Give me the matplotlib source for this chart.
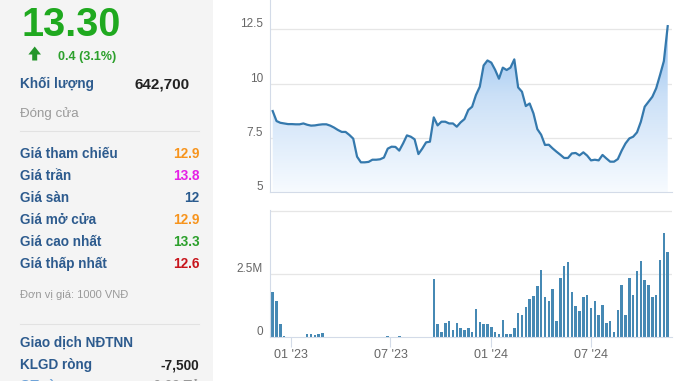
import numpy as np
import pandas as pd
import matplotlib
matplotlib.use('Agg')
import matplotlib.pyplot as plt
import matplotlib.dates as mdates
from matplotlib.transforms import blended_transform_factory, ScaledTranslation
from matplotlib.colors import LinearSegmentedColormap
from matplotlib.patches import Rectangle, Polygon

plt.rcParams['font.family'] = ['Liberation Sans', 'DejaVu Sans']

# ---------------- data ----------------
start_date = '2022-11-28'
prices = [8.74, 8.28, 8.20, 8.17, 8.14, 8.14, 8.13, 8.13, 8.17, 8.11,
          8.07, 8.08, 8.11, 8.13, 8.13, 8.07, 7.98, 7.87, 7.78, 7.78,
          7.64, 7.47, 6.64, 6.38, 6.38, 6.40, 6.50, 6.50, 6.52, 6.60,
          7.01, 7.10, 7.09, 6.92, 7.25, 7.62, 7.56, 7.44, 6.76, 7.01,
          7.30, 7.33, 8.45, 8.08, 8.25, 8.25, 8.17, 8.17, 8.02, 8.22,
          8.37, 8.79, 8.94, 9.48, 9.86, 10.84, 11.07, 10.97, 10.64, 10.23,
          10.74, 10.63, 10.74, 11.12, 9.83, 9.63, 8.97, 9.09, 8.63, 7.91,
          7.65, 7.18, 7.19, 7.02, 6.87, 6.73, 6.58, 6.58, 6.79, 6.81,
          6.70, 6.84, 6.69, 6.47, 6.50, 6.47, 6.72, 6.56, 6.41, 6.41,
          6.53, 6.92, 7.25, 7.48, 7.56, 7.76, 8.25, 8.94, 9.17, 9.40,
          9.79, 10.40, 11.04, 12.65]
volumes_m = [1.80, 1.43, 0.51, 0.05, 0, 0, 0, 0, 0, 0.12,
             0.12, 0.08, 0.12, 0.16, 0, 0, 0, 0, 0, 0,
             0, 0, 0, 0, 0, 0, 0, 0, 0, 0,
             0.07, 0, 0, 0.04, 0, 0, 0, 0, 0, 0,
             0, 0, 2.30, 0.51, 0.22, 0.55, 0.63, 0.30, 0.55, 0.36,
             0.28, 0.36, 0.22, 1.12, 0.59, 0.51, 0.51, 0.39, 0.22, 0.12,
             0.67, 0.12, 0.12, 0.36, 0.95, 0.87, 1.20, 1.51, 1.63, 2.04,
             2.66, 1.61, 1.45, 1.92, 0.63, 2.33, 2.82, 2.99, 1.80, 1.24,
             1.04, 1.61, 1.68, 1.16, 1.45, 0.87, 1.28, 0.55, 0.63, 0.22,
             1.08, 2.05, 0.87, 2.33, 1.68, 2.62, 3.01, 2.25, 2.08, 1.61,
             1.68, 3.07, 4.12, 3.38]

price_ticks = [5, 7.5, 10, 12.5]
price_tick_labels = ['5', '7.5', '10', '12.5']
vol_ticks = [0, 2.5]
vol_tick_labels = ['0', '2.5M']
vol_grid = [0, 2.5, 5]
x_tick_dates = ['2023-01-01', '2023-07-01', '2024-01-01', '2024-07-01']
x_tick_labels = ["01 '23", "07 '23", "01 '24", "07 '24"]

last_price = '13.30'
change_text = '0.4 (3.1%)'
volume_label = 'Khối lượng'
volume_value = '642,700'
status_text = 'Đóng cửa'
stat_labels = ['Giá tham chiếu', 'Giá trần', 'Giá sàn', 'Giá mở cửa',
               'Giá cao nhất', 'Giá thấp nhất']
stat_values = ['12.9', '13.8', '12', '12.9', '13.3', '12.6']
stat_colors = ['#f7941d', '#e620e6', '#2a5b8f', '#f7941d', '#2ca02c', '#c8161d']
unit_text = 'Đơn vị giá: 1000 VNĐ'
foreign_title = 'Giao dịch NĐTNN'
net_label = 'KLGD ròng'
net_value = '-7,500'
next_label = 'GT ròng'
next_value = '-0.09 Tỷ'

# ---------------- figure ----------------
W, H = 678, 381
fig = plt.figure(figsize=(W / 100, H / 100), dpi=100)
fig.patch.set_facecolor('white')

fig.patches.append(Rectangle((0, 0), 213 / W, 1, transform=fig.transFigure,
                             facecolor='#f4f4f4', edgecolor='none', zorder=0))


def T(x, y, s, **kw):
    return fig.text(x / W, 1 - y / H, s, **kw)


BLUE = '#2d5b8e'
T(22, 36.5, last_price, fontsize=28.5, fontweight='bold', color='#1fa91f',
  va='baseline', ha='left')
arrow = [(34.7, 46.5), (41, 54.5), (37.2, 54.5), (37.2, 60.5), (32.2, 60.5),
         (32.2, 54.5), (28.4, 54.5)]
fig.patches.append(Polygon([(x / W, 1 - y / H) for x, y in arrow], closed=True,
                           transform=fig.transFigure, facecolor='#23952a',
                           edgecolor='none', zorder=2))
T(58, 60, change_text, fontsize=9, fontweight='bold', color='#2ca02c', va='baseline')
T(20, 88.3, volume_label, fontsize=9.8, fontweight='bold', color=BLUE, va='baseline')
T(189.5, 88.3, volume_value, fontsize=11, fontweight='bold', color='#222222',
  va='baseline', ha='right')
T(20, 116.7, status_text, fontsize=9.6, color='#9a9a9a', va='baseline')
fig.add_artist(plt.Line2D([20 / W, 199 / W], [1 - 131 / H, 1 - 131 / H],
                          color='#e2e2e2', lw=0.8))

row_base = [158.3, 180.3, 202.3, 224.3, 246.3, 268.3]
for lab, val, col, yb in zip(stat_labels, stat_values, stat_colors, row_base):
    T(20, yb, lab, fontsize=9.8, fontweight='bold', color=BLUE, va='baseline')
    T(199.5, yb, val, fontsize=9.8, fontweight='bold', color=col, va='baseline', ha='right')
T(20, 298, unit_text, fontsize=8, color='#9a9a9a', va='baseline')
fig.add_artist(plt.Line2D([20 / W, 199 / W], [1 - 324.3 / H, 1 - 324.3 / H],
                          color='#e2e2e2', lw=0.8))
T(20, 346.7, foreign_title, fontsize=9.8, fontweight='bold', color=BLUE, va='baseline')
T(20, 369, net_label, fontsize=9.8, fontweight='bold', color=BLUE, va='baseline')
T(199.5, 369, net_value, fontsize=9.8, fontweight='bold', color='#222222',
  va='baseline', ha='right')
T(20, 390, next_label, fontsize=9.8, fontweight='bold', color='#6fa3d8', va='baseline')
T(199.5, 390, next_value, fontsize=9.8, fontweight='bold', color='#999999',
  va='baseline', ha='right')

# ---------------- charts ----------------
dates = pd.date_range(start_date, periods=len(prices), freq='7D')
xnum = mdates.date2num(dates.to_pydatetime())
px_per_day = (667.7 - 272.7) / (xnum[-1] - xnum[0])
xl0 = xnum[0] - 2.7 / px_per_day
xl1 = xnum[-1] + 4.3 / px_per_day

GRID = '#e6e6e6'
AXC = '#d3dbe8'
LABC = '#666666'

# price axes
ax = fig.add_axes([270 / W, 1 - 192.3 / H, 402 / W, 192.3 / H])
ytop = 5 + 192.3 / (54.3 / 2.5)
cmap = LinearSegmentedColormap.from_list('g', ['#f7fbff', '#cbe0f7', '#78b1eb'])
im = ax.imshow(np.linspace(0, 1, 256).reshape(-1, 1), extent=[xl0, xl1, 5, ytop],
               origin='lower', aspect='auto', cmap=cmap, zorder=1)
verts = [(xnum[0], 5)] + list(zip(xnum, prices)) + [(xnum[-1], 5)]
clip = Polygon(verts, closed=True, transform=ax.transData, facecolor='none',
               edgecolor='none')
ax.add_patch(clip)
im.set_clip_path(clip)
for v in price_ticks[1:]:
    ax.axhline(v, color=GRID, lw=0.9, zorder=0.5)
ax.plot(xnum, prices, color='#3579ad', lw=1.6, zorder=3, solid_joinstyle='round')
ax.set_xlim(xl0, xl1)
ax.set_ylim(5, ytop)
ax.set_xticks([])
ax.set_yticks([])
for s in ['top', 'right']:
    ax.spines[s].set_visible(False)
ax.spines['left'].set_color(AXC)
ax.spines['bottom'].set_color(AXC)
ax.spines['left'].set_linewidth(0.8)
ax.spines['bottom'].set_linewidth(0.8)
ax.patch.set_alpha(0)
off = ScaledTranslation(0, 5 / 100, fig.dpi_scale_trans)
tr = blended_transform_factory(ax.transAxes, ax.transData) + off
for v, lab in zip(price_ticks, price_tick_labels):
    ax.text(-7 / 402, v, lab, transform=tr, ha='right', va='center',
            color=LABC, fontsize=8.5)

# volume axes
axv = fig.add_axes([270 / W, 43.7 / H, 402 / W, 127.3 / H])
axv.set_xlim(xl0, xl1)
axv.set_ylim(0, 127.3 / (63.3 / 2.5))
for v in vol_grid[1:]:
    axv.axhline(v, color=GRID, lw=0.9, zorder=0.5)
axv.bar(xnum, volumes_m, width=2.5 / px_per_day, color='#4689b4', zorder=2,
        align='center', linewidth=0)
for s in ['top', 'right']:
    axv.spines[s].set_visible(False)
axv.spines['left'].set_color(AXC)
axv.spines['bottom'].set_color(AXC)
axv.spines['left'].set_linewidth(0.8)
axv.spines['bottom'].set_linewidth(0.8)
axv.set_yticks([])
xt = mdates.date2num(pd.to_datetime(x_tick_dates).to_pydatetime())
axv.set_xticks(xt)
axv.set_xticklabels(x_tick_labels)
axv.tick_params(axis='x', length=7.2, width=0.8, color=AXC, pad=1.5,
                labelsize=9, labelcolor=LABC)
trv = blended_transform_factory(axv.transAxes, axv.transData) + off
for v, lab in zip(vol_ticks, vol_tick_labels):
    axv.text(-7 / 402, v, lab, transform=trv, ha='right', va='center',
             color=LABC, fontsize=8.5)

fig.savefig('out.png', dpi=100)
